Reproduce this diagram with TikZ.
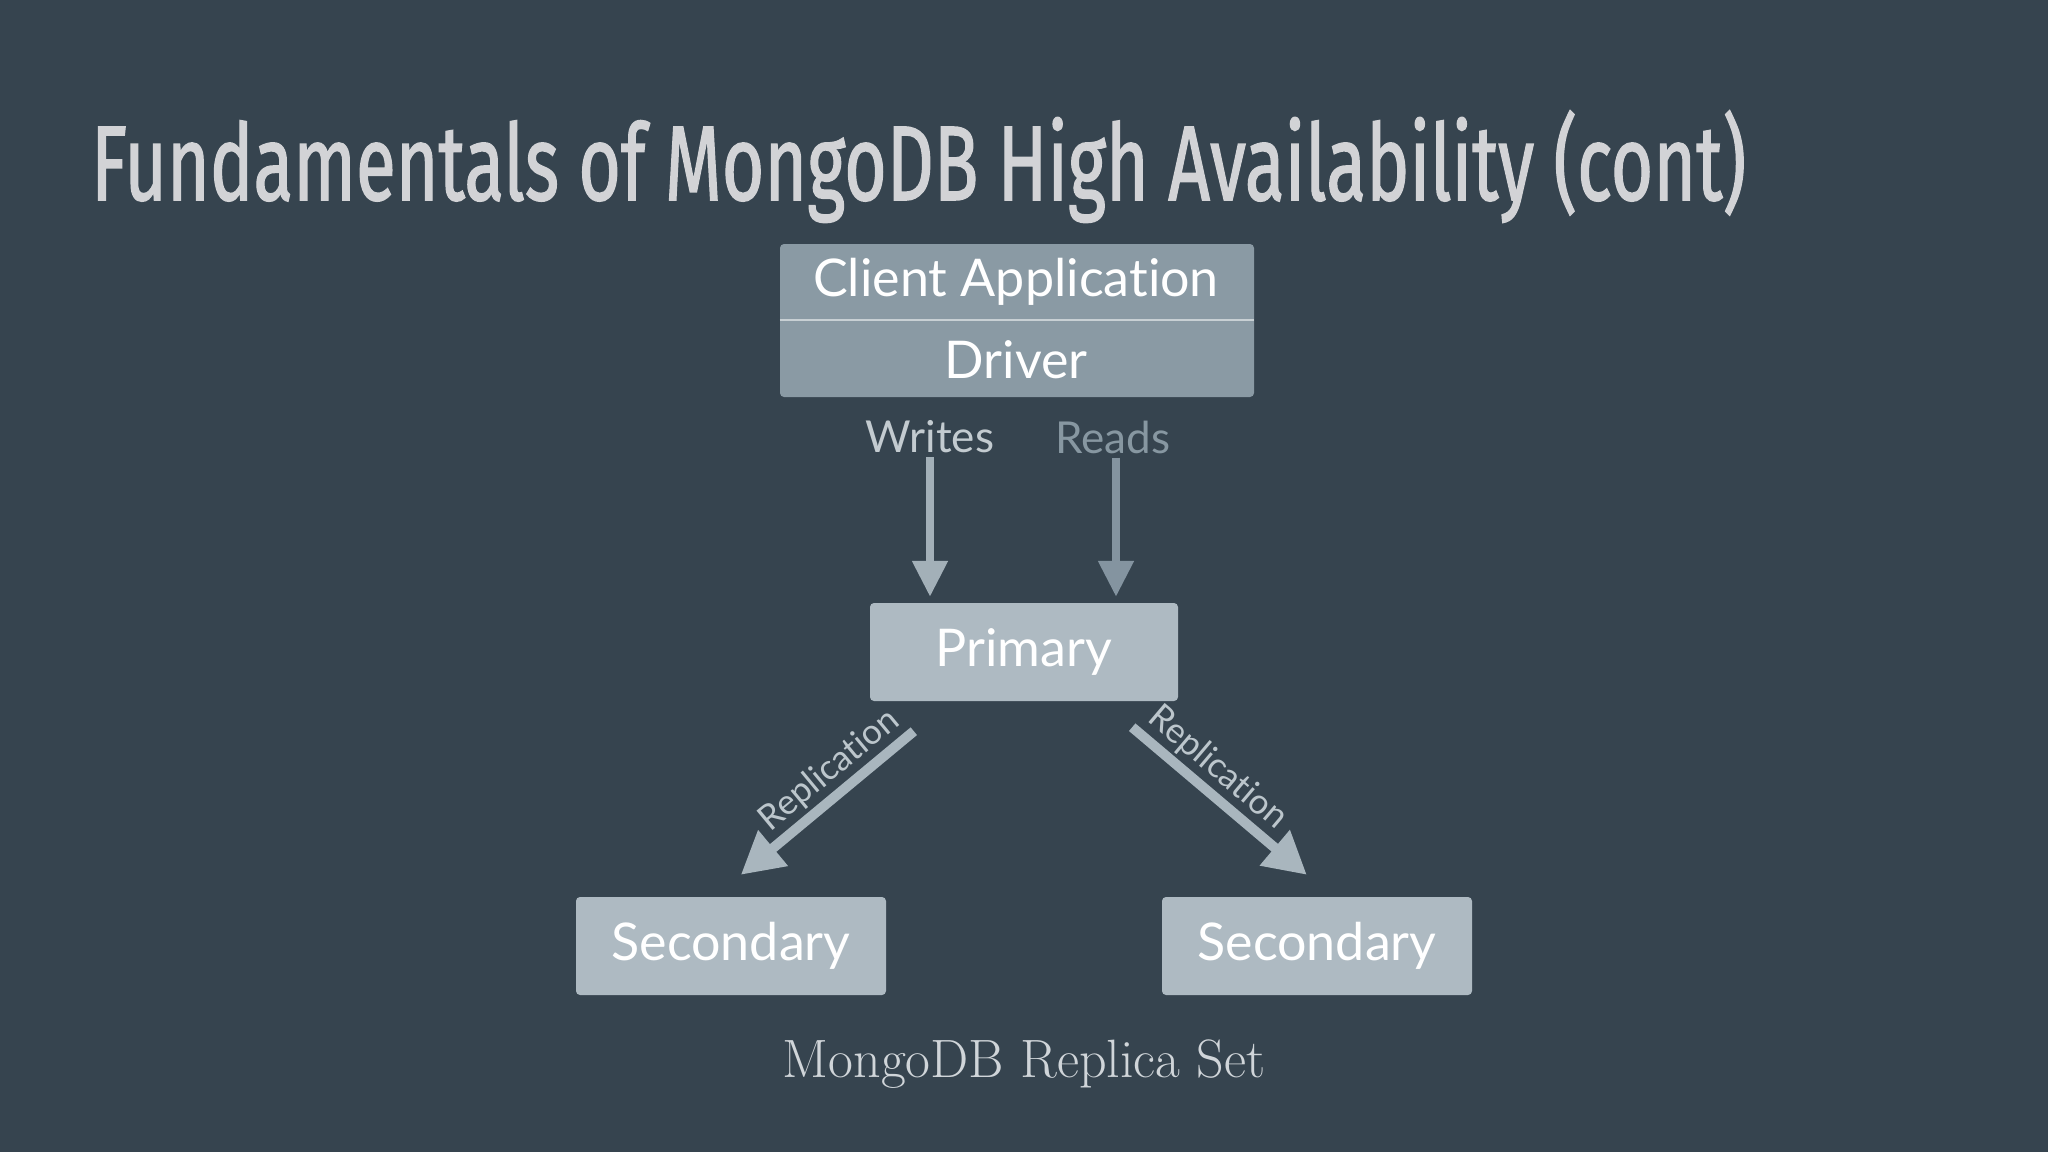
\documentclass[tikz,border=0pt]{standalone}
\usepackage{fontspec}
\usepackage{graphicx}
\usetikzlibrary{arrows.meta}
\setmainfont{Latin Modern Roman}
\newfontfamily\titlefont[FakeBold=1.5]{Fira Sans}
\newfontfamily\boxfont[Ligatures={NoCommon}]{Lato}
\definecolor{bgc}{HTML}{36444F}
\definecolor{clientc}{HTML}{8A9AA4}
\definecolor{nodec}{HTML}{AEBAC2}
\definecolor{divc}{HTML}{C8D0D4}
\definecolor{titlec}{HTML}{D2D3D6}
\definecolor{writec}{HTML}{C3CBD0}
\definecolor{readc}{HTML}{8797A1}
\definecolor{warrc}{HTML}{A3B0B8}
\definecolor{rarrc}{HTML}{8494A0}
\definecolor{reparrc}{HTML}{A9B6BE}
\definecolor{replabc}{HTML}{BCC6CC}
\definecolor{capc}{HTML}{D0D5D9}
\tikzset{
  boxnode/.style={rectangle, rounded corners=4pt, inner sep=0pt, fill=nodec,
    minimum width=#1, minimum height=98pt},
  boxtext/.style={text=white, font=\boxfont\fontsize{52pt}{56pt}\selectfont},
  lbl/.style={inner sep=0pt, font=\boxfont\fontsize{44pt}{48pt}\selectfont},
  vertarrow/.style={line width=8pt, -{Triangle[width=34pt,length=36pt]}},
  reparrow/.style={line width=10pt, draw=reparrc, -{Triangle[width=44pt,length=42pt]}},
  replab/.style={pos=0.4, sloped, above, inner sep=3pt, text=replabc,
    font=\boxfont\fontsize{35pt}{38pt}\selectfont}
}
\begin{document}
\begin{tikzpicture}[x=1pt,y=-1pt]
\fill[bgc] (0,0) rectangle (2048,1152);
\useasboundingbox (0,0) rectangle (2048,1152);
% title
\node[anchor=base west, inner sep=0pt, text=titlec] (title) at (91,200)
  {\resizebox{1655pt}{\height}{\titlefont\fontsize{106pt}{110pt}\selectfont Fundamentals of MongoDB High Availability (cont)}};
% client application box
\node[rectangle, rounded corners=4pt, inner sep=0pt, fill=clientc,
  minimum width=474pt, minimum height=153pt] (client) at (1017,320.5) {};
\draw[divc, line width=2pt] (client.west |- 0,320) -- (client.east |- 0,320);
\node[boxtext] (capp) at (1016,282) {Client Application};
\node[boxtext] (driver) at (1016,360) {Driver};
% labels
\node[lbl, text=writec] (writes) at (930,437) {Writes};
\node[lbl, text=readc] (reads) at (1113,437) {Reads};
% primary / secondaries
\node[boxnode=308pt, boxtext] (primary) at (1024,652) {Primary};
\node[boxnode=310pt, boxtext] (secl) at (731,946) {Secondary};
\node[boxnode=310pt, boxtext] (secr) at (1317,946) {Secondary};
% writes / reads arrows
\draw[vertarrow, warrc] ([yshift=-4pt]writes.south) -- ([yshift=6pt]writes.south |- primary.north);
\draw[vertarrow, rarrc] ([xshift=3pt,yshift=-4pt]reads.south) -- ([xshift=3pt,yshift=6pt]reads.south |- primary.north);
% replication arrows
\draw[reparrow] ([shift={(44,30)}]primary.south west) -- node[replab] {Replication} ([shift={(165,-22)}]secl.north west);
\draw[reparrow] ([shift={(-46,26)}]primary.south east) -- node[replab] {Replication} ([shift={(145,-22)}]secr.north west);
% caption
\node[text=capc, font=\fontsize{54pt}{58pt}\selectfont] (caption) at (1024,1064) {MongoDB Replica Set};
\end{tikzpicture}
\end{document}
